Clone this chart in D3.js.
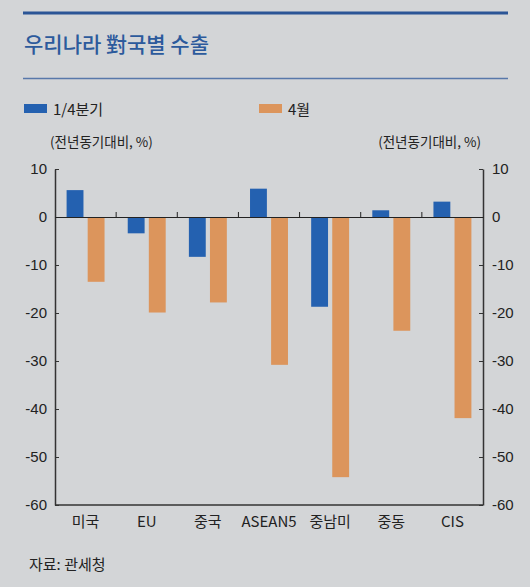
<!DOCTYPE html>
<html><head><meta charset="utf-8">
<script src="https://cdn.jsdelivr.net/npm/d3@7/dist/d3.min.js"></script>
<style>
html,body{margin:0;padding:0;background:#d3d5d7;}
svg{display:block;font-family:"Liberation Sans","Noto Sans CJK KR",Arial,sans-serif;}
</style></head><body>
<svg id="c" width="530" height="587"></svg>
<script>
const categories = ["미국","EU","중국","ASEAN5","중남미","중동","CIS"];
const seriesNames = ["1/4분기","4월"];
const q1Values = [5.6, -3.4, -8.3, 5.9, -18.7, 1.4, 3.2];
const aprValues = [-13.5, -19.9, -17.8, -30.8, -54.2, -23.7, -41.9];
const yTicks = [10, 0, -10, -20, -30, -40, -50, -60];
const colors = ["#2461b0", "#dc955c"];

const svg = d3.select("#c");
const W = 530, H = 587;
svg.append("rect").attr("width", W).attr("height", H).attr("fill", "#d3d5d7");

const kr = '"Noto Sans CJK KR","Liberation Sans",sans-serif';
const titleColor = "#2c5a9c";

// header lines & title
svg.append("line").attr("x1", 23).attr("x2", 508).attr("y1", 13).attr("y2", 13)
  .attr("stroke", "#2b5596").attr("stroke-width", 3);
svg.append("text").attr("x", 24).attr("y", 52).text("우리나라 對국별 수출")
  .attr("font-family", kr).attr("font-size", 21).attr("font-weight", 500).attr("fill", titleColor);
svg.append("line").attr("x1", 23).attr("x2", 508).attr("y1", 78.5).attr("y2", 78.5)
  .attr("stroke", "#5878aa").attr("stroke-width", 1.5);

// legend
const legX = [24, 259];
seriesNames.forEach((s, i) => {
  svg.append("rect").attr("x", legX[i]).attr("y", 104).attr("width", 23).attr("height", 9).attr("fill", colors[i]);
  svg.append("text").attr("x", legX[i] + 29).attr("y", 110).attr("dy", "0.35em").text(s)
    .attr("font-family", kr).attr("font-size", 15).attr("fill", "#222");
});

// unit labels
svg.append("text").attr("x", 50).attr("y", 142).attr("dy", "0.35em").text("(전년동기대비, %)")
  .attr("font-family", kr).attr("font-size", 13.5).attr("fill", "#222");
svg.append("text").attr("x", 481).attr("y", 142).attr("dy", "0.35em").attr("text-anchor", "end").text("(전년동기대비, %)")
  .attr("font-family", kr).attr("font-size", 13.5).attr("fill", "#222");

// scales
const x0 = 55, x1 = 483;
const y = d3.scaleLinear().domain([-60, 10]).range([505, 169]);
const x = d3.scaleBand().domain(categories).range([x0, x1]).paddingInner(0).paddingOuter(0);
const xs = d3.scaleBand().domain(seriesNames).range([0, x.bandwidth()]).paddingInner(0.2).paddingOuter(0.55);

// bars
const data = categories.map((c, i) => ({c, v: [q1Values[i], aprValues[i]]}));
const g = svg.append("g");
data.forEach(d => {
  d.v.forEach((v, j) => {
    g.append("rect")
      .attr("x", x(d.c) + xs(seriesNames[j]))
      .attr("width", xs.bandwidth())
      .attr("y", y(Math.max(0, v)))
      .attr("height", Math.abs(y(v) - y(0)))
      .attr("fill", colors[j]);
  });
});

// axes
const axisColor = "#333";
const fmt = d => String(d);
const left = svg.append("g").attr("transform", `translate(${x0},0)`)
  .call(d3.axisLeft(y).tickValues(yTicks).tickSizeInner(-4).tickSizeOuter(0).tickPadding(8).tickFormat(fmt));
const right = svg.append("g").attr("transform", `translate(${x1},0)`)
  .call(d3.axisRight(y).tickValues(yTicks).tickSizeInner(-4).tickSizeOuter(0).tickPadding(9).tickFormat(fmt));
[left, right].forEach(a => {
  a.select(".domain").attr("stroke", axisColor).attr("stroke-width", 1.5);
  a.selectAll(".tick line").attr("stroke", axisColor);
  a.selectAll("text").attr("font-size", 15).attr("fill", "#222").attr("font-family", '"Liberation Sans",Arial,sans-serif');
});

// bottom axis line
svg.append("line").attr("x1", x0).attr("x2", x1).attr("y1", y(-60)).attr("y2", y(-60))
  .attr("stroke", axisColor).attr("stroke-width", 1.5);

// zero line with category ticks
const zeroAxis = svg.append("g").attr("transform", `translate(0,${y(0)})`)
  .call(d3.axisTop(x).tickSizeInner(0).tickSizeOuter(0).tickFormat(""));
zeroAxis.select(".domain").attr("stroke", "#222").attr("stroke-width", 1.2);
zeroAxis.selectAll(".tick").remove();
categories.slice(1).forEach(c => {
  svg.append("line").attr("x1", x(c)).attr("x2", x(c)).attr("y1", y(0)).attr("y2", y(0) - 5)
    .attr("stroke", "#222").attr("stroke-width", 1);
});

// category labels
const bottom = svg.append("g").attr("transform", `translate(0,${y(-60)})`)
  .call(d3.axisBottom(x).tickSize(0).tickPadding(11));
bottom.select(".domain").remove();
bottom.selectAll("text").attr("font-size", 15).attr("fill", "#222").attr("font-family", kr);

// source
svg.append("text").attr("x", 29).attr("y", 565).attr("dy", "0.35em").text("자료: 관세청")
  .attr("font-family", kr).attr("font-size", 15).attr("fill", "#222");
</script>
</body></html>
